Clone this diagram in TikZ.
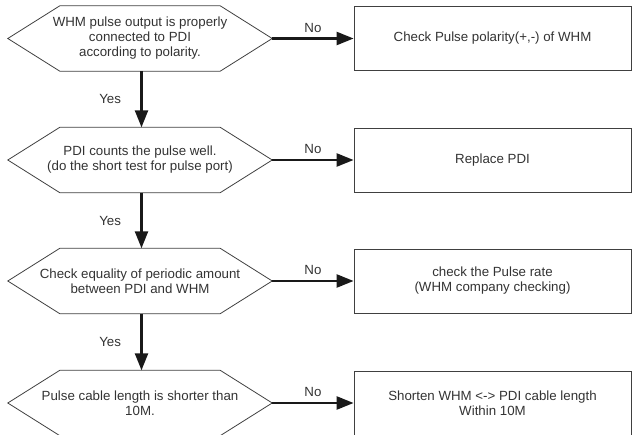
\documentclass[tikz,border=0pt]{standalone}
\usepackage{fontspec}
\setmainfont{Liberation Sans}
\usetikzlibrary{arrows.meta}

\tikzset{
	txt/.style={font=\fontsize{13.3}{15}\selectfont, text=black!80},
	outline/.style={draw=black!75, line width=0.8pt},
	question/.style={txt, rectangle, minimum width=264pt, minimum height=65pt,
		inner sep=0pt, align=center},
	answer/.style={txt, outline, rectangle, minimum width=277pt, minimum height=64pt, align=center},
	flow/.style={line width=2.4pt, draw=black!90, -{Triangle[length=17pt,width=13pt]}},
}
% six-sided frame round a question node, pointed at west and east
\def\hexframe(#1){\draw[outline] ([xshift=52pt]#1.north west) -- ([xshift=-52pt]#1.north east) -- (#1.east) -- ([xshift=-52pt]#1.south east) -- ([xshift=52pt]#1.south west) -- (#1.west) -- cycle;}

\begin{document}
\begin{tikzpicture}[x=1pt,y=-1pt]
			%%%%% START %%%%%
			\useasboundingbox (0,0) rectangle (632,435);
			
			% checks on the left
			\node[question] (polar) at (140,38.5) {WHM pulse output is properly\\connected to PDI\\according to polarity.};
			\node[question] (count) at (140,160) {PDI counts the pulse well.\\(do the short test for pulse port)};
			\node[question] (equal) at (140,281) {Check equality of periodic amount\\between PDI and WHM};
			\node[question] (cable) at (140,403) {Pulse cable length is shorter than\\10M.};
			\hexframe(polar)
			\hexframe(count)
			\hexframe(equal)
			\hexframe(cable)
			
			% what to do on the right
			\node[answer] (fixpolar) at (492.5,38.5) {Check Pulse polarity(+,-) of WHM};
			\node[answer] (fixcount) at (492.5,160) {Replace PDI};
			\node[answer] (fixequal) at (492.5,281) {check the Pulse rate\\(WHM company checking)};
			\node[answer] (fixcable) at (492.5,403) {Shorten WHM <-> PDI cable length\\Within 10M};
			
			% yes, go down
			\draw[flow] ([xshift=1.5pt]polar.south) -- node[txt, midway, left=16pt] {Yes} ([xshift=1.5pt]count.north);
			\draw[flow] ([xshift=1.5pt]count.south) -- node[txt, midway, left=16pt] {Yes} ([xshift=1.5pt]equal.north);
			\draw[flow] ([xshift=1.5pt]equal.south) -- node[txt, midway, left=16pt] {Yes} ([xshift=1.5pt]cable.north);
			
			% no, go right
			\draw[flow] (polar.east) -- node[txt, midway, above=1.5pt] {No} (fixpolar.west);
			\draw[flow] (count.east) -- node[txt, midway, above=1.5pt] {No} (fixcount.west);
			\draw[flow] (equal.east) -- node[txt, midway, above=1.5pt] {No} (fixequal.west);
			\draw[flow] (cable.east) -- node[txt, midway, above=1.5pt] {No} (fixcable.west);
			
			%%%%% END %%%%%
\end{tikzpicture}
\end{document}
